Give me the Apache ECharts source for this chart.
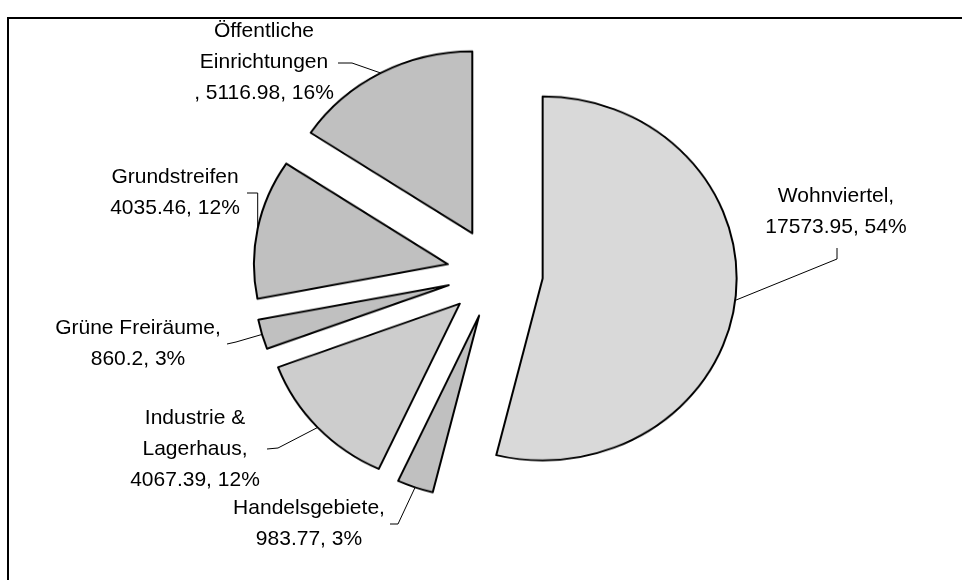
<!DOCTYPE html>
<html>
<head>
<meta charset="utf-8">
<script src="https://cdn.jsdelivr.net/npm/echarts@6/dist/echarts.min.js"></script>
<style>
html,body{margin:0;padding:0;background:#fff;}
#wrap{position:relative;width:962px;height:580px;overflow:hidden;background:#fff;}
#pies{position:absolute;left:0;top:0;width:962px;height:620px;transform-origin:0 0;}
#labels{position:absolute;left:0;top:0;width:962px;height:580px;}
</style>
</head>
<body>
<div id="wrap"><div id="pies"></div><div id="labels"></div></div>
<script>
// ---- data ----
const categories = ['Wohnviertel', 'Handelsgebiete', 'Industrie & Lagerhaus', 'Grüne Freiräume', 'Grundstreifen', 'Öffentliche Einrichtungen'];
const values = [17573.95, 983.77, 4067.39, 860.2, 4035.46, 5116.98];
const labelPrefix = ['Wohnviertel,\n', 'Handelsgebiete,\n', 'Industrie &\nLagerhaus,\n', 'Grüne Freiräume,\n', 'Grundstreifen\n', 'Öffentliche\nEinrichtungen\n, '];

// ---- styling / layout ----
const fills = ['#d9d9d9', '#c0c0c0', '#cdcdcd', '#c0c0c0', '#c0c0c0', '#c0c0c0'];
const center = [495, 273];   // screen centre of the (un-exploded) pie
const radius = 194;          // horizontal radius
const squash = 182 / 194;    // vertical / horizontal radius ratio (pie is drawn slightly flattened)
const offset = 48;
// label block centres and leader bend / end points (layout only)
const labelPos = [[836, 212], [309, 524], [195, 449], [138, 344], [175, 193], [264, 62]];
const leaderEnd = [[[837, 259], [837, 248]], [[398, 524], [390, 524]], [[278, 448], [267, 449]], [[236, 342], [227, 344]], [[null, 193], [247, 193]], [[352, 63], [338, 63]]];

const total = values.reduce((a, b) => a + b, 0);
function midAngle(i) {
  let cum = 0;
  for (let k = 0; k < i; k++) cum += values[k];
  return (90 - (cum + values[i] / 2) / total * 360) * Math.PI / 180;
}

// ---- chart 1: the exploded slices (flattened via CSS scaleY) ----
const pieDiv = document.getElementById('pies');
pieDiv.style.transform = 'scaleY(' + squash + ')';
const pieChart = echarts.init(pieDiv);
const pieCenter = [center[0], center[1] / squash];
pieChart.setOption({
  animation: false,
  series: categories.map((cat, i) => {
    const a = midAngle(i);
    return {
      type: 'pie',
      center: [pieCenter[0] + offset * Math.cos(a), pieCenter[1] - offset * Math.sin(a)],
      radius: radius,
      startAngle: 90,
      clockwise: true,
      silent: true,
      emphasis: { disabled: true },
      label: { show: false },
      labelLine: { show: false },
      data: categories.map((name, k) => ({
        name: name,
        value: values[k],
        itemStyle: k === i
          ? { color: fills[k], borderColor: '#000', borderWidth: 2 }
          : { color: 'rgba(0,0,0,0)', borderColor: 'rgba(0,0,0,0)', borderWidth: 0 }
      }))
    };
  })
});

// ---- chart 2: frame, data labels and leader lines ----
const labelChart = echarts.init(document.getElementById('labels'));
labelChart.setOption({
  animation: false,
  backgroundColor: 'transparent',
  graphic: [{
    type: 'rect', shape: { x: 8, y: 18, width: 1000, height: 1000 },
    style: { fill: 'none', stroke: '#000', lineWidth: 2 }, z: 0, silent: true
  }],
  series: [{
    type: 'pie',
    center: center,
    radius: radius,
    startAngle: 90,
    clockwise: true,
    percentPrecision: 0,
    avoidLabelOverlap: false,
    silent: true,
    emphasis: { disabled: true },
    itemStyle: { color: 'rgba(0,0,0,0)', borderWidth: 0 },
    label: {
      show: true,
      position: 'outside',
      fontFamily: '"Liberation Sans", Arial, sans-serif',
      fontSize: 21,
      lineHeight: 31,
      color: '#000',
      align: 'center',
      formatter: p => labelPrefix[p.dataIndex] + p.value + ', ' + p.percent + '%'
    },
    labelLine: { show: true, smooth: false, lineStyle: { color: '#000', width: 1 } },
    labelLayout: function (params) {
      const k = params.dataIndex;
      const a = midAngle(k);
      const start = [center[0] + (offset + radius) * Math.cos(a), center[1] - (offset + radius) * squash * Math.sin(a)];
      const bend = leaderEnd[k][0].slice();
      if (bend[0] === null) bend[0] = start[0];
      return {
        x: labelPos[k][0], y: labelPos[k][1],
        align: 'center', verticalAlign: 'middle',
        labelLinePoints: [start, bend, leaderEnd[k][1]]
      };
    },
    data: categories.map((name, k) => ({ name: name, value: values[k] }))
  }]
});
</script>
</body>
</html>
